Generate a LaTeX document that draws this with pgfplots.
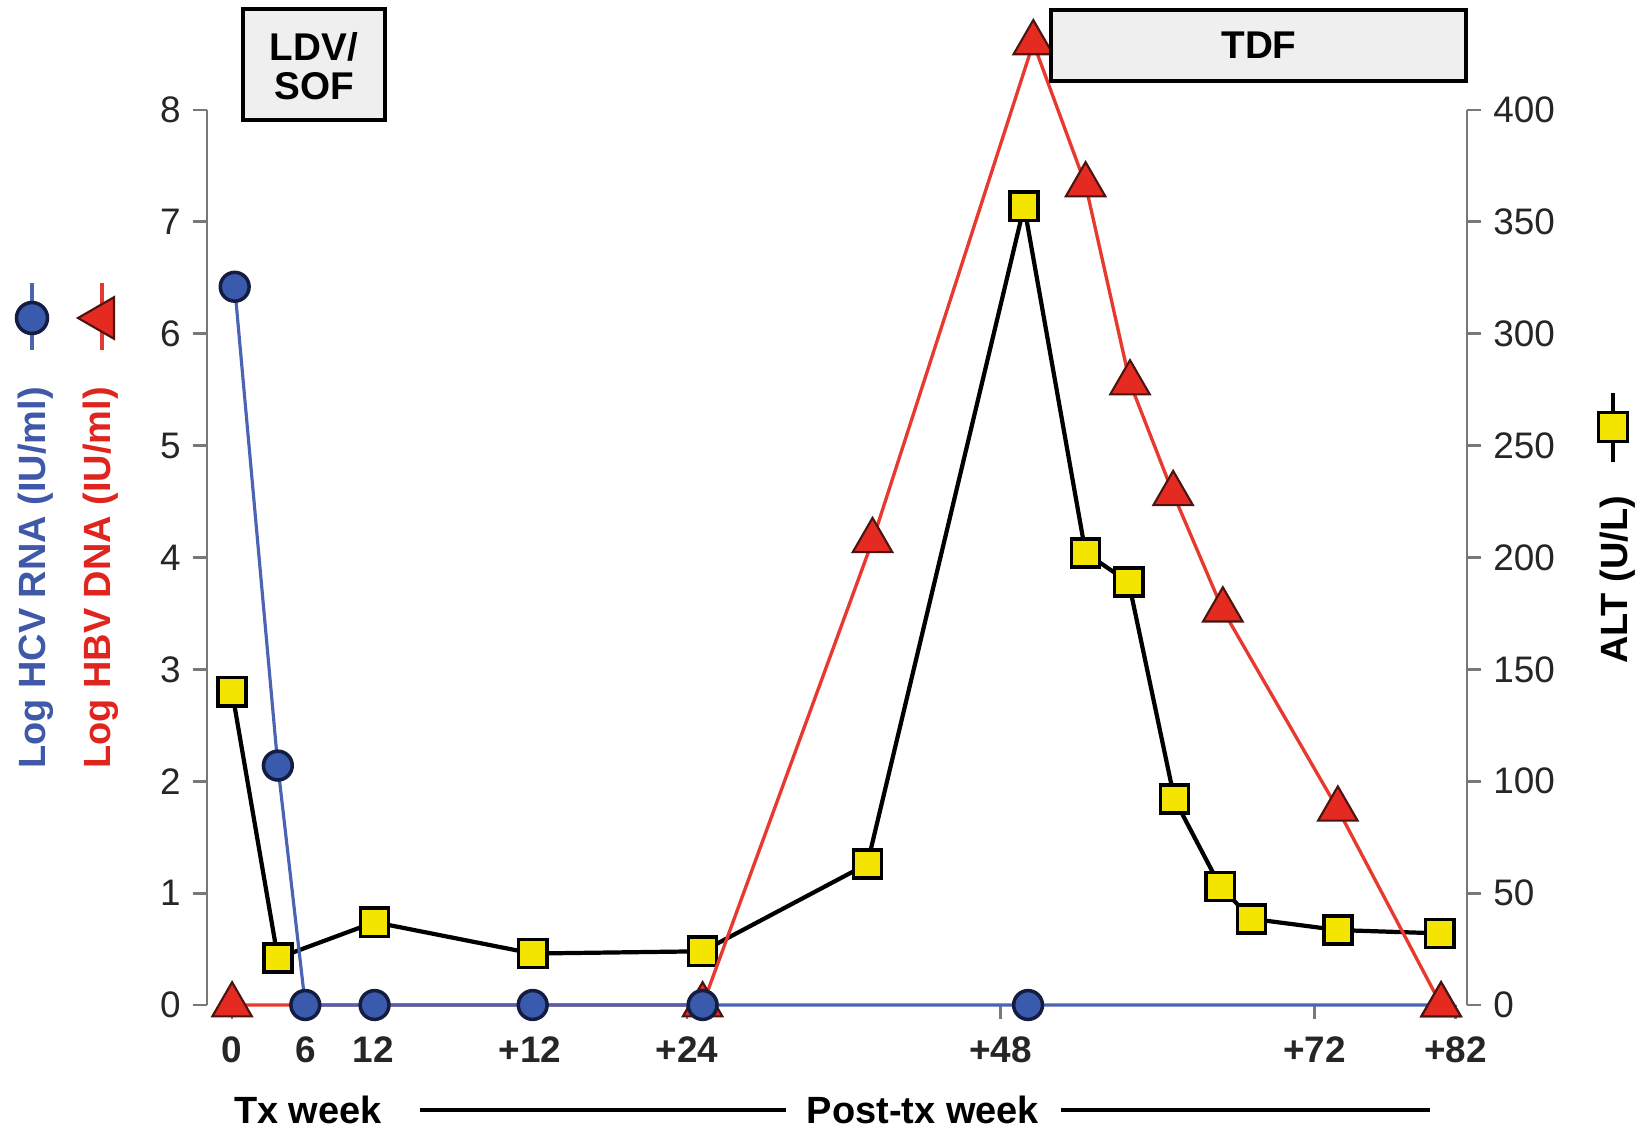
\documentclass[border=0pt]{standalone}
\usepackage{fontspec}
\setmainfont{Liberation Sans}
\usepackage{pgfplots}
\pgfplotsset{compat=1.18}
\usepackage{pgfplotstable}
\usetikzlibrary{shapes.geometric}

\definecolor{hcvfill}{HTML}{3A5AAE}
\definecolor{hcvline}{HTML}{4A63B3}
\definecolor{hcvedge}{HTML}{141C40}
\definecolor{hcvtext}{HTML}{3F59A8}
\definecolor{hbvfill}{HTML}{E52A22}
\definecolor{hbvline}{HTML}{E8392E}
\definecolor{hbvedge}{HTML}{4A1510}
\definecolor{hbvtext}{HTML}{E0241E}
\definecolor{altfill}{HTML}{F4E500}
\definecolor{axisgray}{HTML}{787878}
\definecolor{boxfill}{HTML}{EFEFEF}

\newcommand\tck{\fontsize{10.5}{12}\selectfont}
\newcommand\lbl{\fontsize{10.8}{11.2}\selectfont\bfseries}

% x = study week: tx weeks 0-12, then post-tx +12 ... +82 (= 24 ... 94)
\pgfplotstableread{
x y
1.4 6.42
4.7 2.14
6.8 0
12.1 0
24.2 0
37.2 0
62.1 0
93.7 0
}\hcv

\pgfplotstableread{
x y
1.2 0
37.2 0
50.2 4.15
62.5 8.60
66.5 7.33
69.9 5.56
73.2 4.57
77.0 3.53
85.8 1.75
93.7 0
}\hbv

% ALT in U/L (right axis)
\pgfplotstableread{
x y
1.2 140
4.7 21
12.1 37
24.2 23
37.2 24
49.8 63
61.8 357
66.5 202
69.8 189
73.3 92
76.8 53
79.2 38.5
85.8 33.5
93.6 32
}\alt

\pgfplotsset{
  common/.style={
    at={(0,0)}, anchor=south west,
    scale only axis, width=12.6cm, height=8.95cm,
    xmin=-0.72, xmax=95.68, ymin=0,
    clip=false,
    tick align=outside, major tick length=0.14cm,
    every tick/.style={axisgray, line width=0.8pt},
    tick label style={font=\tck, text=black!85},
    /pgf/number format/assume math mode=true,
  },
}

\begin{document}
\begin{tikzpicture}
\useasboundingbox (-2.07,-1.23) rectangle (14.34,10.05);

% ALT on the right axis, drawn first so the viral load lines lie on top
\begin{axis}[common, ymax=400,
  axis y line*=right, axis x line=none,
  y axis line style={axisgray, line width=0.8pt},
  ytick={0,50,...,400},
]
\addplot[black, line width=1.2pt, mark=square*, mark size=4pt,
  mark options={fill=altfill, draw=black, line width=1pt}] table {\alt};
\end{axis}

\begin{axis}[common, ymax=8,
  axis y line*=left, axis x line*=bottom,
  x axis line style={draw=none},
  y axis line style={axisgray, line width=0.8pt},
  ytick={0,...,8},
  xtick={1.2,6.8,12,24,36,60,84,94.8},
  xticklabels={0,6,12,+12,+24,+48,+72,+82},
  xticklabel style={font=\tck\bfseries, yshift=-0.05cm},
]
\addplot[hbvline, line width=0.95pt, mark=triangle*, mark size=6.5pt,
  mark options={fill=hbvfill, draw=hbvedge, line width=0.6pt}] table {\hbv};
\addplot[hcvline, line width=0.9pt, mark=*, mark size=4.1pt, mark indices={1,...,7},
  mark options={fill=hcvfill, draw=hcvedge, line width=1pt}] table {\hcv};
\addplot[only marks, mark=triangle*, mark size=6.5pt, restrict x to domain=93:96,
  mark options={fill=hbvfill, draw=hbvedge, line width=0.6pt}] table {\hbv};
\end{axis}

% drug boxes
\draw[line width=0.9pt, fill=boxfill] (0.36,8.85) rectangle (1.78,9.96);
\node[align=center, font=\fontsize{11}{11.2}\selectfont\bfseries] at (1.07,9.39) {LDV/\\SOF};
\draw[line width=0.9pt, fill=boxfill] (8.44,9.24) rectangle (12.59,9.95);
\node[font=\fontsize{11}{12}\selectfont\bfseries] at (10.52,9.6) {TDF};

% left axis titles with their symbols
\node[rotate=90, font=\lbl, text=hcvtext] at (-1.71,4.27) {Log HCV RNA (IU/ml)};
\node[rotate=90, font=\lbl, text=hbvtext] at (-1.06,4.27) {Log HBV DNA (IU/ml)};
\draw[hcvline, line width=0.9pt] (-1.75,6.55) -- (-1.75,7.22);
\node[circle, fill=hcvfill, draw=hcvedge, line width=1pt, minimum size=0.31cm, inner sep=0pt] at (-1.75,6.87) {};
\draw[hbvline, line width=0.9pt] (-1.05,6.55) -- (-1.05,7.22);
\node[regular polygon, regular polygon sides=3, shape border rotate=90, fill=hbvfill, draw=hbvedge,
  line width=0.6pt, minimum size=0.48cm, inner sep=0pt] at (-1.05,6.87) {};

% right axis title with its symbol
\node[rotate=90, font=\lbl] at (14.11,4.25) {ALT (U/L)};
\draw[black, line width=0.9pt] (14.06,5.43) -- (14.06,6.12);
\node[rectangle, fill=altfill, draw=black, line width=1pt, minimum size=0.29cm, inner sep=0pt] at (14.06,5.78) {};

% period labels under the x axis
\node[font=\lbl] at (1.01,-1.05) {Tx week};
\draw[line width=0.9pt] (2.13,-1.05) -- (5.79,-1.05);
\node[font=\lbl] at (7.16,-1.05) {Post-tx week};
\draw[line width=0.9pt] (8.54,-1.05) -- (12.23,-1.05);
\end{tikzpicture}
\end{document}
